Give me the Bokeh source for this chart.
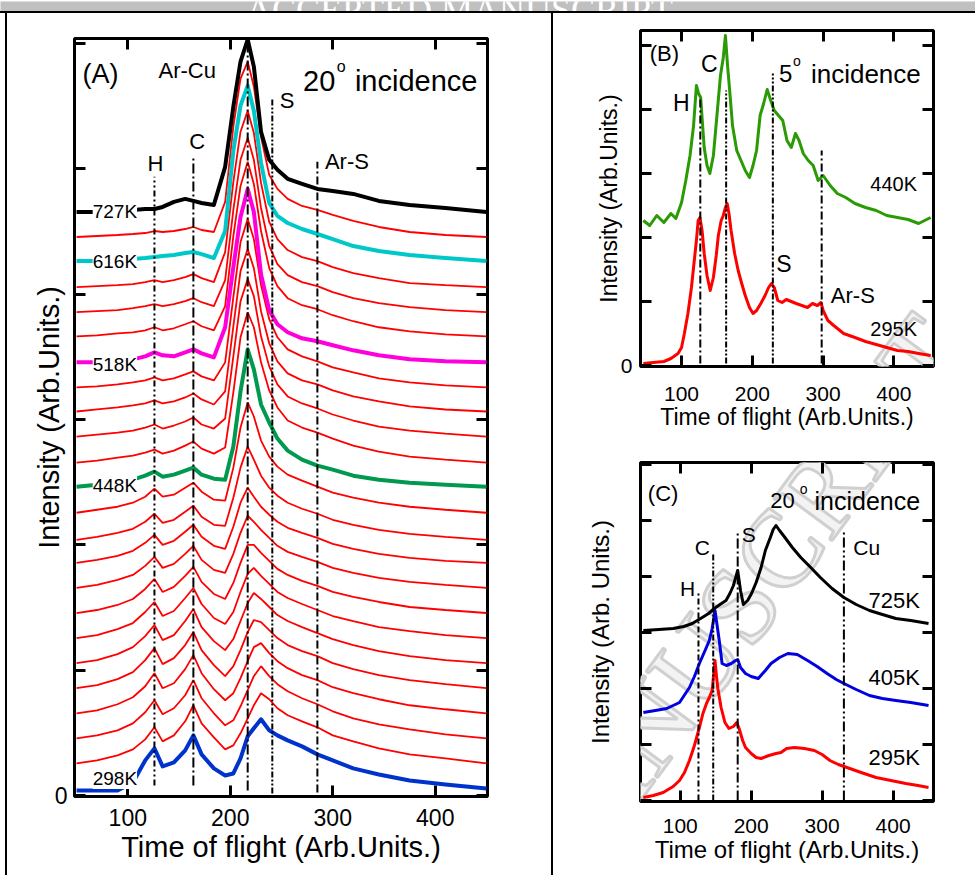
import math
from bokeh.plotting import figure
from bokeh.layouts import row, column
from bokeh.models import Range1d, FixedTicker, LinearAxis, Label, CustomJSTickFormatter
from bokeh.embed import file_html
from bokeh.resources import INLINE
from bokeh.core.enums import CoordinateUnits

CANVAS = "canvas" if "canvas" in CoordinateUnits else "screen"
HAS_OUTLINE = "text_outline_color" in Label.properties()
FONT = "Liberation Sans"
SERIF = "Liberation Serif"

# ------------------------------------------------------------------ data
# Panel A : 24 stacked spectra, 20 deg incidence (heights above each trace's own baseline)
A_X = [50, 70, 90, 105, 117, 126, 134, 145, 156, 164, 172, 184, 195, 203, 210,
       217, 223, 230, 238, 246, 256, 270, 285, 300, 320, 345, 375, 410, 450]
A_OFFSETS = [5, 32, 57, 82, 107, 132, 157, 182, 207, 232, 255, 282,
             308, 332, 358, 383, 407, 432, 458, 482, 507, 533, 557, 582]
a00 = [0, 0, 0, 8, 30, 42, 24, 28, 40, 55, 36, 22, 15, 17, 32, 54, 62, 71, 60, 55, 50, 44, 36, 30, 22, 16, 10, 6, 2]
a01 = [0, 3, 8, 14, 24, 36, 22, 28, 42, 58, 40, 26, 14, 18, 30, 45, 58, 70, 64, 55, 48, 42, 36, 28, 22, 15, 9, 5, 0]
a02 = [0, 3, 8, 15, 26, 38, 24, 30, 43, 58, 40, 25, 13, 18, 32, 48, 62, 72, 62, 54, 47, 40, 34, 27, 20, 14, 9, 4, 0]
a03 = [0, 3, 9, 16, 27, 40, 25, 30, 44, 58, 40, 24, 13, 20, 35, 52, 66, 70, 60, 52, 45, 38, 33, 26, 20, 14, 8, 4, 0]
a04 = [0, 3, 9, 16, 28, 40, 24, 30, 43, 56, 38, 23, 12, 22, 38, 56, 68, 66, 58, 50, 43, 37, 32, 25, 19, 13, 8, 4, 0]
a05 = [0, 3, 9, 16, 27, 38, 23, 28, 42, 54, 36, 22, 13, 24, 42, 60, 70, 64, 56, 48, 42, 36, 30, 24, 18, 12, 7, 3, 0]
a06 = [0, 3, 9, 15, 26, 36, 22, 27, 40, 50, 34, 20, 14, 26, 46, 64, 70, 62, 54, 46, 40, 34, 28, 22, 17, 11, 7, 3, 0]
a07 = [0, 3, 8, 14, 24, 34, 21, 26, 37, 46, 31, 19, 14, 30, 50, 68, 68, 60, 52, 44, 38, 32, 27, 21, 16, 11, 6, 3, 0]
a08 = [0, 3, 8, 13, 22, 31, 20, 24, 34, 42, 28, 18, 15, 34, 55, 72, 66, 58, 50, 42, 36, 31, 26, 20, 15, 10, 6, 3, 0]
a09 = [0, 3, 7, 12, 20, 28, 18, 22, 31, 38, 26, 17, 14, 36, 60, 75, 66, 56, 48, 41, 35, 30, 25, 19, 14, 9, 5, 2, 0]
a10 = [0, 3, 7, 11, 18, 26, 17, 20, 28, 34, 23, 15, 14, 42, 72, 93, 80, 64, 52, 44, 37, 31, 26, 20, 15, 10, 6, 3, 0]
a11 = [0, 3, 6, 10, 16, 24, 16, 18, 25, 30, 21, 13, 12, 45, 85, 110, 96, 72, 56, 46, 38, 32, 26, 20, 15, 10, 6, 3, 0]
a12 = [0, 2, 4, 7, 11, 15, 10, 12, 16, 19, 12, 8, 7, 40, 95, 137, 117, 82, 64, 48, 36, 27, 21, 17, 11, 7, 4, 2, 0]
a13 = [0, 2, 5, 7, 10, 13, 9, 12, 17, 21, 14, 9, 15, 70, 125, 150, 135, 100, 72, 55, 42, 35, 30, 24, 17, 11, 6, 3, 0]
a14 = [0, 2, 4, 6, 9, 12, 8, 11, 15, 19, 12, 8, 18, 80, 135, 157, 140, 100, 70, 52, 40, 33, 28, 22, 16, 10, 6, 3, 0]
a15 = [0, 2, 4, 6, 8, 11, 8, 10, 14, 18, 12, 7, 20, 85, 140, 162, 143, 100, 68, 50, 38, 31, 27, 21, 15, 10, 5, 2, 0]
a16 = [0, 1, 3, 5, 7, 10, 7, 9, 13, 16, 11, 7, 25, 90, 145, 168, 148, 102, 68, 50, 38, 31, 26, 20, 15, 9, 5, 2, 0]
a17 = [0, 0, 1, 3, 6, 10, 7, 6, 10, 13, 9, 5, 35, 95, 145, 173, 150, 88, 52, 38, 30, 24, 21, 17, 12, 7, 3, 1, 0]
a18 = [0, 1, 3, 4, 6, 9, 6, 8, 12, 15, 10, 6, 30, 100, 150, 174, 152, 105, 68, 50, 38, 31, 27, 21, 15, 9, 5, 2, 0]
a19 = [0, 1, 2, 4, 6, 8, 6, 8, 11, 14, 10, 6, 32, 102, 152, 174, 152, 104, 66, 48, 37, 30, 26, 20, 14, 9, 5, 2, 0]
a20 = [0, 1, 2, 3, 5, 7, 5, 7, 10, 13, 9, 5, 35, 105, 155, 176, 154, 104, 65, 48, 37, 30, 26, 20, 14, 9, 4, 2, 0]
a21 = [0, 0, 1, 2, 3, 4, 5, 6, 8, 9, 7, 3, 30, 110, 155, 175, 150, 98, 58, 45, 38, 32, 27, 22, 15, 10, 6, 3, 0]
a22 = [0, 1, 2, 3, 4, 6, 5, 6, 8, 10, 7, 5, 35, 110, 158, 175, 150, 100, 62, 48, 38, 31, 27, 22, 16, 10, 5, 2, 0]
a23 = [0, 0, 1, 2, 3, 3, 5, 10, 13, 11, 9, 7, 45, 105, 150, 172, 145, 80, 52, 42, 33, 28, 23, 21, 18, 11, 7, 4, 0]
A_TRACES = [a00, a01, a02, a03, a04, a05, a06, a07, a08, a09, a10, a11,
            a12, a13, a14, a15, a16, a17, a18, a19, a20, a21, a22, a23]
A_TEMPS = {0: "298K", 12: "448K", 17: "518K", 21: "616K", 23: "727K"}
A_PEAKS = ["H", "C", "Ar-Cu", "S", "Ar-S"]
A_PEAK_X = [126, 164, 217, 241, 285]

# Panel B : 5 deg incidence
B_GREEN_X = [46, 55, 65, 75, 85, 92, 100, 106, 112, 117, 121, 124, 127, 132, 136, 140, 145, 150,
             155, 159, 162, 165, 168, 172, 178, 184, 190, 196, 201, 206, 211, 216, 221, 226, 231,
             237, 243, 249, 255, 261, 266, 272, 279, 286, 293, 300, 310, 320, 332, 345, 360, 375,
             390, 405, 420, 435, 452]
B_GREEN_Y = [145, 140, 150, 143, 152, 147, 163, 185, 210, 240, 280, 272, 268, 218, 200, 192, 210, 250,
             290, 308, 330, 300, 275, 240, 215, 205, 195, 188, 200, 215, 250, 262, 276, 265, 255,
             250, 245, 225, 218, 232, 225, 212, 205, 200, 185, 190, 180, 172, 168, 162, 158, 155,
             150, 148, 146, 142, 148]
B_RED_X = [46, 60, 75, 85, 95, 100, 104, 109, 114, 118, 121, 123.5, 126, 129, 132, 136, 140.5, 145,
           149, 152, 156, 159, 162, 164.5, 167, 170, 175, 180, 185, 190, 196, 201, 206, 212, 218,
           223, 227, 231, 236, 242, 248, 255, 262, 270, 278, 285, 292, 297, 300, 306.8, 315, 329,
           345, 360, 375, 390, 405, 420, 435, 452]
B_RED_Y = [2, 3, 4, 7, 12, 18, 32, 52, 78, 105, 125, 145, 148, 135, 112, 90, 75, 88,
           110, 130, 145, 150, 158, 162, 152, 135, 112, 95, 82, 70, 58, 52, 55, 62, 70,
           78, 82, 78, 65, 63, 66, 64, 62, 60, 58, 62, 60, 63, 55, 45, 40, 32,
           28, 24, 21, 18, 15, 14, 12, 10]
B_PEAK_X = [126.5, 163, 229, 298]

# Panel C : 20 deg incidence
C_BLACK_X = [48, 70, 90, 105, 117, 131, 140, 148, 156, 164.5, 170, 175, 181, 185, 189, 195, 200.5,
             207, 214, 220, 227, 231, 235, 240, 247.6, 258, 270, 284, 297.5, 314, 330.7, 348, 366.7,
             385, 404, 425, 450]
C_BLACK_Y = [170, 171, 172, 174, 177, 183, 187, 192, 196, 200, 207, 215, 230, 210, 196, 200, 207,
             218, 233, 250, 263, 271, 275, 270, 263, 253, 243, 233, 223, 212, 203, 196, 190,
             186, 182, 180, 177]
C_BLUE_X = [48, 65, 81, 99, 113, 120, 127, 135, 141, 145, 149, 152, 155, 159, 165, 172, 178, 181,
            185, 192, 200, 210, 220, 228, 240, 251.7, 265, 279.5, 293, 307, 320, 330.7, 348,
            366.7, 385, 404, 425, 450]
C_BLUE_Y = [88, 90, 92, 98, 113, 124, 137, 150, 160, 172, 190, 175, 160, 137, 135, 137, 140, 141,
            133, 127, 124, 122, 130, 137, 143, 147, 146, 140, 134, 127, 121, 117, 111,
            105, 102, 100, 98, 95]
C_RED_X = [48, 62, 76, 90, 99, 106, 113, 120, 127, 132, 137, 141, 145, 147, 149, 151, 153, 157.6,
           163, 168.6, 175, 179.7, 183, 188, 192, 200, 207, 214, 225, 235, 242, 250, 261, 275,
           289, 300, 311, 323, 335, 355, 376, 397, 418, 435, 450]
C_RED_Y = [3, 5, 8, 14, 20, 28, 40, 55, 73, 87, 97, 103, 110, 125, 140, 125, 112, 93,
           78, 72, 74, 78, 72, 60, 53, 47, 43, 42, 45, 47, 48, 52, 53, 52,
           50, 46, 40, 36, 33, 28, 23, 20, 17, 15, 13]
C_PEAK_X = [125.7, 146.5, 181, 330.7]

X_TICKS = [100, 200, 300, 400]
HEADER_H = 11


# ------------------------------------------------------------------ helpers
def base_figure(width, height, xr, yr, borders, yticks, zero_label, tick_fs, title_fs,
                xlabel, ylabel, xtick_std, ytick_std, xlab_std, ylab_std):
    left, right, top, bottom = borders
    p = figure(width=width, height=height, x_range=Range1d(*xr), y_range=Range1d(*yr),
               output_backend="svg", toolbar_location=None,
               min_border_left=left, min_border_right=right,
               min_border_top=top, min_border_bottom=bottom,
               background_fill_color="white", border_fill_color="white",
               border_fill_alpha=0.0)
    p.grid.visible = False
    p.outline_line_color = "black"
    p.outline_line_width = 3
    xa = p.xaxis[0]
    ya = p.yaxis[0]
    xa.ticker = FixedTicker(ticks=X_TICKS)
    ya.ticker = FixedTicker(ticks=yticks)
    ya.formatter = CustomJSTickFormatter(
        code="return tick == 0 ? '0' : '';" if zero_label else "return '';")
    xa.axis_label = xlabel
    ya.axis_label = ylabel
    ta = LinearAxis(ticker=FixedTicker(ticks=X_TICKS), formatter=CustomJSTickFormatter(code="return '';"))
    ra = LinearAxis(ticker=FixedTicker(ticks=yticks), formatter=CustomJSTickFormatter(code="return '';"))
    p.add_layout(ta, "above")
    p.add_layout(ra, "right")
    for ax in (xa, ya, ta, ra):
        ax.axis_line_color = None
        ax.major_tick_in = 11
        ax.major_tick_out = 0
        ax.major_tick_line_width = 3
        ax.major_tick_line_color = "black"
        ax.minor_tick_line_color = None
        ax.major_label_text_font = FONT
        ax.major_label_text_color = "black"
        ax.major_label_text_font_size = tick_fs
        ax.axis_label_text_font = FONT
        ax.axis_label_text_font_size = title_fs
        ax.axis_label_text_font_style = "normal"
        ax.axis_label_text_color = "black"
    for ax in (ta, ra):
        ax.major_label_text_font_size = "1px"
        ax.major_label_standoff = 0
    xa.major_label_standoff = xtick_std
    ya.major_label_standoff = ytick_std
    xa.axis_label_standoff = xlab_std
    ya.axis_label_standoff = ylab_std
    return p


def add_text(p, text, x, y, size, align="center", baseline="middle", bg=None, color="black"):
    kw = dict(x=x, y=y, text=text, text_font=FONT, text_font_size=size, text_color=color,
              text_align=align, text_baseline=baseline)
    if bg is not None:
        kw["background_fill_color"] = bg
        kw["background_fill_alpha"] = 1.0
    p.add_layout(Label(**kw))


def watermark(p, dx, dy):
    # faint diagonal "ACCEPTED MANUSCRIPT" stamp of the scanned page (page pixels shifted to this canvas)
    kw = dict(x=166.6 - dx, y=1379.8 - dy, x_units=CANVAS, y_units=CANVAS,
              text="ACCEPTED MANUSCRIPT", text_font=SERIF, text_font_size="110px",
              text_align="left", text_baseline="middle", angle=0.9355, level="underlay",
              text_color="#f3f3f3")
    if HAS_OUTLINE:
        kw.update(text_outline_color="#d0d0d0")
    p.add_layout(Label(**kw))


def vline(p, x, y0, y1, dash, width=2):
    p.line([x, x], [y0, y1], line_color="black", line_width=width, line_dash=dash)


# ------------------------------------------------------------------ header band
pH = figure(width=975, height=HEADER_H, x_range=Range1d(0, 975), y_range=Range1d(0, HEADER_H),
            output_backend="svg", toolbar_location=None, min_border=0,
            x_axis_location=None, y_axis_location=None,
            background_fill_color="#c0c0c0", border_fill_color="#c0c0c0")
pH.grid.visible = False
pH.outline_line_color = None
pH.add_layout(Label(x=459, y=3, text="ACCEPTED MANUSCRIPT", text_font=SERIF,
                    text_font_size="36px", text_color="white", text_align="center",
                    text_baseline="alphabetic"))

# ------------------------------------------------------------------ panel A
pA = base_figure(553, 875 - HEADER_H, (48, 451), (-1, 755), (74, 66, 38 - HEADER_H, 79),
                 [0, 125, 250, 375, 500, 625, 750], True, "23px", "29px",
                 "Time of flight (Arb.Units.)", "Intensity (Arb.Units.)",
                 12, 7, 2, -13)
pA.styles = {"box-shadow": "inset -2px 0 0 0 #000000"}

A_STYLE = {0: ("#0033cc", 4), 12: ("#00994f", 4), 17: ("#ff00dc", 4), 21: ("#00c8c8", 4), 23: ("black", 4)}
for i, h in enumerate(A_TRACES):
    if i not in A_STYLE:
        pA.line(A_X, [A_OFFSETS[i] + v for v in h], line_color="#ff0000", line_width=1.8)
for i in [0, 12, 17, 21, 23]:
    col, lw = A_STYLE[i]
    pA.line(A_X, [A_OFFSETS[i] + v for v in A_TRACES[i]], line_color=col, line_width=lw,
            line_join="round")

A_LINE_TOP = [617, 637, 755, 696, 632]
A_LINE_BOT = [10, 10, 5, 2, 3]
A_DASH = ["6 3 2 3 2 3", "10 3 2 3", "10 3 2 3", "6 2 2 2 2 2", "8 3 2 3"]
for x, t, b, d in zip(A_PEAK_X, A_LINE_TOP, A_LINE_BOT, A_DASH):
    vline(pA, x, b, t, d)

add_text(pA, "(A)", 73.3, 720, "27px")
add_text(pA, A_PEAKS[2], 158, 723, "22px")
add_text(pA, A_PEAKS[3], 255.4, 693, "22px")
add_text(pA, A_PEAKS[1], 167.8, 652, "22px")
add_text(pA, A_PEAKS[0], 126.9, 630, "22px")
add_text(pA, A_PEAKS[4], 313.8, 632, "22px")
add_text(pA, "20", 271, 713, "29px", align="left", baseline="alphabetic")
add_text(pA, "o", 304, 727, "16px", align="left", baseline="alphabetic")
add_text(pA, "incidence", 321.6, 713, "29px", align="left", baseline="alphabetic")
A_TEMP_Y = {0: 17, 12: 309, 17: 430, 21: 533, 23: 582}
for i, t in A_TEMPS.items():
    add_text(pA, t, 87.4, A_TEMP_Y[i], "19px", bg="white")

# ------------------------------------------------------------------ panel B
pB = base_figure(422, 440 - HEADER_H, (42, 456), (-1, 335), (86, 42, 30 - HEADER_H, 74),
                 [0, 64, 128, 192, 256, 320], True, "21px", "23px",
                 "Time of flight (Arb.Units.)", "Intensity (Arb.Units.)",
                 20, 8, 0, -4)
watermark(pB, 553, HEADER_H)
pB.line(B_RED_X, B_RED_Y, line_color="#ff0000", line_width=3, line_join="round")
pB.line(B_GREEN_X, B_GREEN_Y, line_color="#2a9a05", line_width=3, line_join="round")
B_LINE_TOP = [268, 275, 292, 215]
B_DASH = ["8 3 2 3", "6 2 2 2 2 2", "6 2 2 2 2 2", "8 3 2 3"]
for x, t, d in zip(B_PEAK_X, B_LINE_TOP, B_DASH):
    vline(pB, x, 2, t, d)
add_text(pB, "(B)", 75.8, 312, "22px")
add_text(pB, "C", 139.2, 302, "23px")
add_text(pB, "H", 99.7, 263, "23px")
add_text(pB, "5", 237.8, 292, "24px", align="left", baseline="alphabetic")
add_text(pB, "o", 257.5, 305, "14px", align="left", baseline="alphabetic")
add_text(pB, "incidence", 282.8, 292, "26px", align="left", baseline="alphabetic")
add_text(pB, "440K", 399.7, 182, "20px")
add_text(pB, "S", 244.8, 102, "23px")
add_text(pB, "Ar-S", 342, 70, "22px")
add_text(pB, "295K", 399.7, 37, "20px")

# ------------------------------------------------------------------ panel C
pC = base_figure(422, 435, (44, 457), (-1, 338), (87, 37, 22, 74),
                 [0, 56, 112, 168, 224, 280, 336], False, "21px", "24px",
                 "Time of flight (Arb.Units.)", "Intensity (Arb. Units.)",
                 17, 8, 0, 27)
watermark(pC, 553, 440)
pC.line(C_RED_X, C_RED_Y, line_color="#ff0000", line_width=3, line_join="round")
pC.line(C_BLUE_X, C_BLUE_Y, line_color="#0000e0", line_width=3, line_join="round")
pC.line(C_BLACK_X, C_BLACK_Y, line_color="black", line_width=3, line_join="round")
C_LINE_TOP = [207, 248, 268, 270]
C_DASH = ["6 3 2 3", "6 2 2 2 2 2", "10 3 2 3", "10 3 2 3 2 3"]
for x, t, d in zip(C_PEAK_X, C_LINE_TOP, C_DASH):
    vline(pC, x, 0, t, d)
add_text(pC, "(C)", 75.9, 307, "22px")
add_text(pC, "C", 131, 253, "21px")
add_text(pC, "H", 110.5, 212, "21px")
add_text(pC, "S", 196.5, 266, "21px")
add_text(pC, "Cu", 362.8, 253, "21px")
add_text(pC, "20", 227, 300, "22px", align="left", baseline="alphabetic")
add_text(pC, "o", 268.5, 312, "14px", align="left", baseline="alphabetic")
add_text(pC, "incidence", 289.3, 300, "25px", align="left", baseline="alphabetic")
add_text(pC, "725K", 401.6, 200, "22px")
add_text(pC, "405K", 401.6, 123, "22px")
add_text(pC, "295K", 401.6, 43, "22px")

body = row(pA, column(pB, pC))
# page rules of the scanned manuscript: top rule and left rule
body.styles = {"box-shadow": "inset 0 2px 0 0 #000000, inset 5px 0 0 0 #ffffff, "
                              "inset 7px 0 0 0 #000000"}
layout = column(pH, body)
open("out.html", "w").write(file_html(layout, INLINE))
